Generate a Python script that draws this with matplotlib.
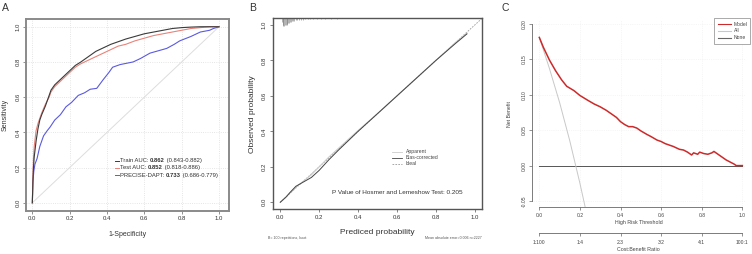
import matplotlib
matplotlib.use("Agg")
import matplotlib.pyplot as plt
from matplotlib.lines import Line2D
import numpy as np

plt.rcParams['font.family'] = ['Liberation Sans', 'DejaVu Sans']

W, H = 752, 254

# ---------------- Data ----------------
# Panel A: ROC curves (1-specificity, sensitivity)
train_fpr = [0, 0.003, 0.006, 0.01, 0.02, 0.03, 0.04, 0.05, 0.07, 0.09, 0.1, 0.12, 0.14, 0.17, 0.2, 0.23,
             0.26, 0.3, 0.34, 0.38, 0.42, 0.46, 0.5, 0.55, 0.6, 0.65, 0.7, 0.75, 0.8, 0.85, 0.9, 0.95, 1.0]
train_tpr = [0, 0.12, 0.2, 0.26, 0.35, 0.42, 0.47, 0.5, 0.55, 0.61, 0.64, 0.67, 0.69, 0.72, 0.75, 0.78,
             0.8, 0.83, 0.86, 0.88, 0.9, 0.915, 0.93, 0.945, 0.96, 0.97, 0.98, 0.99, 0.995, 0.998, 1.0, 1.0, 1.0]
test_fpr = [0, 0.003, 0.006, 0.01, 0.02, 0.03, 0.04, 0.05, 0.07, 0.09, 0.1, 0.12, 0.14, 0.17, 0.2, 0.23,
            0.26, 0.3, 0.34, 0.38, 0.42, 0.46, 0.5, 0.55, 0.6, 0.65, 0.7, 0.75, 0.8, 0.85, 0.9, 0.95, 1.0]
test_tpr = [0, 0.15, 0.25, 0.32, 0.41, 0.45, 0.48, 0.51, 0.56, 0.6, 0.63, 0.66, 0.68, 0.71, 0.74, 0.77,
            0.79, 0.81, 0.83, 0.85, 0.87, 0.89, 0.9, 0.92, 0.935, 0.95, 0.96, 0.97, 0.98, 0.99, 0.995, 1.0, 1.0]
dapt_fpr = [0, 0.003, 0.008, 0.014, 0.025, 0.04, 0.06, 0.08, 0.095, 0.12, 0.15, 0.18, 0.21, 0.246, 0.28,
            0.31, 0.345, 0.38, 0.41, 0.43, 0.47, 0.54, 0.58, 0.63, 0.68, 0.72, 0.76, 0.79, 0.85, 0.9, 0.95,
            0.97, 1.0]
dapt_tpr = [0, 0.12, 0.18, 0.22, 0.25, 0.32, 0.38, 0.41, 0.43, 0.47, 0.5, 0.545, 0.57, 0.61, 0.625,
            0.645, 0.65, 0.7, 0.74, 0.77, 0.785, 0.8, 0.82, 0.85, 0.865, 0.877, 0.9, 0.92, 0.945, 0.97, 0.98,
            0.99, 1.0]

legend_a_names = ["Train AUC: ", "Test AUC: ", "PRECISE-DAPT: "]
legend_a_auc = ["0.862", "0.852", "0.733"]
legend_a_ci = [" (0.843-0.882)", " (0.818-0.886)", " (0.686-0.779)"]

# Panel B: calibration
cal_pred = [0.0, 0.03, 0.05, 0.08, 0.12, 0.16, 0.2, 0.25, 0.3, 0.4, 0.5, 0.6, 0.7, 0.8, 0.9, 0.96]
apparent_obs = [0.0, 0.03, 0.055, 0.085, 0.12, 0.155, 0.2, 0.255, 0.305, 0.405, 0.5, 0.6, 0.7, 0.8, 0.9, 0.955]
biascorr_obs = [0.0, 0.03, 0.055, 0.09, 0.115, 0.14, 0.18, 0.24, 0.295, 0.4, 0.5, 0.6, 0.7, 0.8, 0.895, 0.95]
rug_x = [0.008, 0.012, 0.016, 0.02, 0.024, 0.028, 0.032, 0.036, 0.04, 0.045, 0.05, 0.055, 0.06, 0.066,
         0.072, 0.08, 0.088, 0.096, 0.105, 0.115, 0.125, 0.14, 0.155, 0.17, 0.19, 0.21, 0.23, 0.26, 0.29]
rug_h = [0.02, 0.04, 0.045, 0.045, 0.04, 0.04, 0.035, 0.03, 0.028, 0.025, 0.022, 0.02, 0.018, 0.016,
         0.014, 0.012, 0.01, 0.009, 0.008, 0.007, 0.006, 0.005, 0.005, 0.004, 0.004, 0.003, 0.003, 0.003, 0.003]

# Panel C: decision curve
thr = [0.0, 0.02, 0.05, 0.08, 0.11, 0.135, 0.17, 0.2, 0.24, 0.27, 0.3, 0.33, 0.36, 0.38, 0.4, 0.42, 0.44,
       0.46, 0.48, 0.5, 0.53, 0.55, 0.58, 0.6, 0.62, 0.64, 0.66, 0.69, 0.71, 0.73, 0.75, 0.76, 0.78, 0.79,
       0.81, 0.83, 0.85, 0.86, 0.88, 0.9, 0.92, 0.94, 0.96, 0.97, 1.0]
nb_model = [0.181, 0.167, 0.149, 0.134, 0.121, 0.112, 0.106, 0.099, 0.092, 0.087, 0.083, 0.078, 0.072, 0.068,
            0.062, 0.058, 0.055, 0.055, 0.053, 0.049, 0.044, 0.041, 0.036, 0.034, 0.031, 0.029, 0.027, 0.023,
            0.022, 0.019, 0.015, 0.018, 0.016, 0.019, 0.017, 0.016, 0.018, 0.02, 0.016, 0.012, 0.008, 0.005,
            0.002, 0.0, 0.0]
thr_all = [0.0, 0.05, 0.1, 0.15, 0.2, 0.23]
nb_all = [0.181, 0.137, 0.089, 0.035, -0.025, -0.064]
thr_none = [0.0, 1.0]
nb_none = [0.0, 0.0]
cb_ticks = [0.0, 0.2, 0.4, 0.6, 0.8, 1.0]
cb_labels = ["1:100", "1:4", "2:3", "3:2", "4:1", "100:1"]

# ---------------- Figure ----------------
fig = plt.figure(figsize=(W / 100, H / 100), dpi=100)
renderer = fig.canvas.get_renderer()


def add_ax(l, t, r, b):
    return fig.add_axes([l / W, 1 - b / H, (r - l) / W, (b - t) / H])


def ft(x, y, s, **kw):
    return fig.text(x / W, 1 - y / H, s, **kw)


def fl(x0, x1, y, **kw):
    fig.add_artist(Line2D([x0 / W, x1 / W], [1 - y / H, 1 - y / H], transform=fig.transFigure, **kw))


tick_fs = 4.3
# ---- Panel A ----
axA = add_ax(26, 19, 228.7, 210.7)
axA.set_xlim(-0.034, 1.052)
axA.set_ylim(-0.045, 1.044)
for s in axA.spines.values():
    s.set_color('#8a8a8a')
    s.set_linewidth(1.4)
axA.set_xticks([0, 0.2, 0.4, 0.6, 0.8, 1.0])
axA.set_yticks([0, 0.2, 0.4, 0.6, 0.8, 1.0])
axA.set_xticklabels(["0.0", "0.2", "0.4", "0.6", "0.8", "1.0"])
axA.set_yticklabels(["0.0", "0.2", "0.4", "0.6", "0.8", "1.0"], rotation=90, va='center')
axA.tick_params(length=2, width=0.5, colors='#666666', labelsize=tick_fs, pad=2, labelcolor='#333333')
axA.grid(True, color='#dddddd', linestyle=':', linewidth=0.6)
axA.plot([0, 1], [0, 1], color='#dddddd', lw=0.7)
axA.plot(dapt_fpr, dapt_tpr, color='#5a5ae0', lw=0.8)
axA.plot(test_fpr, test_tpr, color='#e8837a', lw=0.8)
axA.plot(train_fpr, train_tpr, color='#3a3a3a', lw=0.8)
axA.set_xlabel("1-Specificity", fontsize=5, labelpad=7, color='#333333')
axA.set_ylabel("Sensitivity", fontsize=5, labelpad=5, color='#333333')
leg_cols = ['#3a3a3a', '#e8837a', '#5a5ae0']
for i, c in enumerate(leg_cols):
    y = 160.5 + i * 7.3
    fl(114.5, 119, y, color=c, lw=0.7)
    x = 120.0
    for part, wt in [(legend_a_names[i], 'normal'), (legend_a_auc[i], 'bold'), (legend_a_ci[i], 'normal')]:
        t = ft(x, y, part, fontsize=4.2, va='center', ha='left', color='#333333', fontweight=wt)
        bb = t.get_window_extent(renderer=renderer)
        x = bb.x1
ft(5, 8, "A", fontsize=7.5, ha='center', va='center', color='#333333')

# ---- Panel B ----
axB = add_ax(272.7, 18.3, 482.3, 209)
axB.set_xlim(-0.039, 1.039)
axB.set_ylim(-0.038, 1.038)
for s in axB.spines.values():
    s.set_color('#555555')
    s.set_linewidth(1.0)
axB.set_xticks([0, 0.2, 0.4, 0.6, 0.8, 1.0])
axB.set_yticks([0, 0.2, 0.4, 0.6, 0.8, 1.0])
axB.set_xticklabels(["0.0", "0.2", "0.4", "0.6", "0.8", "1.0"])
axB.set_yticklabels(["0.0", "0.2", "0.4", "0.6", "0.8", "1.0"], rotation=90, va='center')
axB.tick_params(length=2.5, width=0.5, colors='#555555', labelsize=tick_fs, pad=2, labelcolor='#333333')
axB.plot([0, 1.039], [0, 1.039], color='#999999', lw=0.6, ls=(0, (2, 1.5)))
axB.plot(cal_pred, apparent_obs, color='#cccccc', lw=0.8)
axB.plot(cal_pred, biascorr_obs, color='#444444', lw=0.7)
axB.vlines(rug_x, [1.038 - h for h in rug_h], 1.038, color='#777777', lw=0.4)
axB.text(0.265, 0.055, "P Value of Hosmer and Lemeshow Test: 0.205", fontsize=4.6, ha='left', va='center',
         color='#333333')
axB.set_xlabel("Prediced probability", fontsize=6, labelpad=6, color='#333333')
axB.set_ylabel("Observed probability", fontsize=6, labelpad=4, color='#333333')
for i, (lab, c, ls) in enumerate(zip(["Apparent", "Bias-corrected", "Ideal"],
                                     ['#cccccc', '#444444', '#999999'], ['-', '-', (0, (2, 1.5))])):
    y = 151.7 + i * 5.9
    fl(391.7, 401.7, y, color=c, lw=0.6, ls=ls)
    ft(405.5, y, lab, fontsize=3.6, va='center', ha='left', color='#444444')
ft(268, 238, "B= 100 repetitions, boot", fontsize=2.6, va='center', ha='left', color='#555555')
ft(482, 238, "Mean absolute error=0.006 n=2227", fontsize=2.6, va='center', ha='right', color='#555555')
ft(253, 8, "B", fontsize=7.5, ha='center', va='center', color='#333333')

# ---- Panel C ----
axC = add_ax(532, 20, 745, 207.3)
axC.set_xlim(-0.036, 1.013)
axC.set_ylim(-0.0589, 0.2056)
for k in ['top', 'right']:
    axC.spines[k].set_visible(False)
axC.spines['left'].set_bounds(-0.05, 0.20)
axC.spines['bottom'].set_bounds(0.0, 1.0)
for k in ['left', 'bottom']:
    axC.spines[k].set_color('#666666')
    axC.spines[k].set_linewidth(0.6)
axC.set_xticks([0, 0.2, 0.4, 0.6, 0.8, 1.0])
axC.set_xticklabels(["0.0", "0.2", "0.4", "0.6", "0.8", "1.0"])
axC.set_yticks([-0.05, 0.0, 0.05, 0.10, 0.15, 0.20])
axC.set_yticklabels(["-0.05", "0.00", "0.05", "0.10", "0.15", "0.20"], rotation=90, va='center')
axC.tick_params(length=2, width=0.5, colors='#666666', labelsize=3.6, pad=2, labelcolor='#444444')
axC.grid(True, color='#eeeeee', linestyle=':', linewidth=0.5)
axC.plot(thr_none, nb_none, color='#555555', lw=0.7)
axC.plot(thr_all, nb_all, color='#c8c8c8', lw=0.7)
axC.plot(thr, nb_model, color='#cc2a2a', lw=1.1)
axC.set_xlabel("High Risk Threshold", fontsize=3.8, labelpad=1.5, color='#444444')
axC.set_ylabel("Net Benefit", fontsize=3.8, labelpad=7, color='#444444')

axC2 = add_ax(532, 225, 745, 233)
axC2.set_xlim(-0.036, 1.013)
axC2.patch.set_visible(False)
for k in ['top', 'right', 'left']:
    axC2.spines[k].set_visible(False)
axC2.spines['bottom'].set_bounds(0.0, 1.0)
axC2.spines['bottom'].set_color('#666666')
axC2.spines['bottom'].set_linewidth(0.6)
axC2.set_yticks([])
axC2.set_xticks(cb_ticks)
axC2.set_xticklabels(cb_labels)
axC2.tick_params(length=2, width=0.5, colors='#666666', labelsize=3.6, pad=3, labelcolor='#444444')
axC2.set_xlabel("Cost:Benefit Ratio", fontsize=3.8, labelpad=1.5, color='#444444')

# legend C
fig.add_artist(plt.Rectangle((714 / W, 1 - 44 / H), 36 / W, 26 / H, transform=fig.transFigure,
                             fill=True, facecolor='white', edgecolor='#888888', lw=0.5))
for i, (lab, c) in enumerate(zip(["Model", "All", "None"], ['#cc2a2a', '#a9d3df', '#666666'])):
    y = 24.3 + i * 6.7
    fl(718, 731, y, color=c, lw=0.8)
    ft(733.5, y, lab, fontsize=3.6, va='center', ha='left', color='#444444')
ft(505, 8, "C", fontsize=7.5, ha='center', va='center', color='#333333')

fig.savefig("out.png", dpi=100)
